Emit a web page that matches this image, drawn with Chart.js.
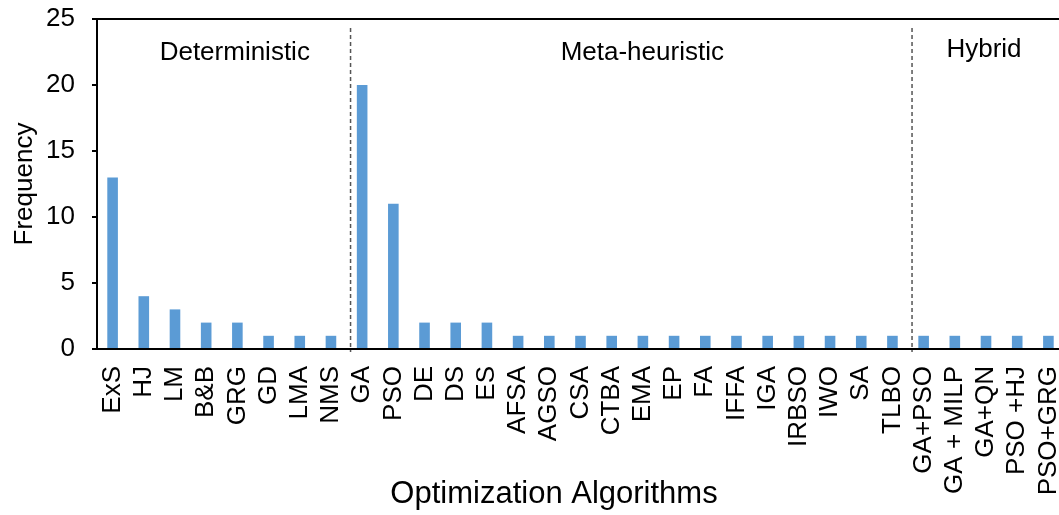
<!DOCTYPE html>
<html>
<head>
<meta charset="utf-8">
<script src="https://cdn.jsdelivr.net/npm/chart.js@4"></script>
<style>
  html, body { margin: 0; padding: 0; background: #fff; overflow: hidden; }
  #wrap { width: 1064px; height: 515px; }
</style>
</head>
<body>
<div id="wrap"><canvas id="myChart" width="1064" height="515"></canvas></div>
<script>
const algorithms = ["ExS", "HJ", "LM", "B&B", "GRG", "GD", "LMA", "NMS",
	"GA", "PSO", "DE", "DS", "ES", "AFSA", "AGSO", "CSA", "CTBA", "EMA", "EP", "FA",
	"IFFA", "IGA", "IRBSO", "IWO", "SA", "TLBO",
	"GA+PSO", "GA + MILP", "GA+QN", "PSO +HJ", "PSO+GRG"];
const frequency = [13, 4, 3, 2, 2, 1, 1, 1,
	20, 11, 2, 2, 2, 1, 1, 1, 1, 1, 1, 1, 1, 1, 1, 1, 1, 1,
	1, 1, 1, 1, 1];
const groupNames = ["Deterministic", "Meta-heuristic", "Hybrid"];
const groupSizes = [8, 18, 5];
const yTicks = [0, 5, 10, 15, 20, 25];

const FONT = "'Liberation Sans', Arial, sans-serif";

// frame top line, group dividers, group names and axis titles
const decorations = {
	id: "decorations",
	afterDraw(chart) {
		const { ctx, chartArea: area, scales: { x } } = chart;
		const step = x.getPixelForValue(1) - x.getPixelForValue(0);
		ctx.save();

		ctx.strokeStyle = "#000";
		ctx.lineWidth = 2;
		ctx.beginPath();
		ctx.moveTo(area.left - 1, area.top);
		ctx.lineTo(area.right, area.top);
		ctx.stroke();

		const edges = [area.left];
		let count = 0;
		groupSizes.forEach((n, i) => {
			count += n;
			if (i < groupSizes.length - 1) {
				edges.push(x.getPixelForValue(count - 1) + step / 2 + 4);
			}
		});
		edges.push(area.right);

		ctx.strokeStyle = "#555";
		ctx.lineWidth = 1.5;
		ctx.setLineDash([4, 3]);
		for (let i = 1; i < edges.length - 1; i++) {
			ctx.beginPath();
			ctx.moveTo(edges[i], area.top + 9);
			ctx.lineTo(edges[i], area.bottom + 3);
			ctx.stroke();
		}
		ctx.setLineDash([]);

		ctx.fillStyle = "#000";
		ctx.font = "26px " + FONT;
		ctx.textAlign = "center";
		ctx.textBaseline = "alphabetic";
		groupNames.forEach((name, i) => {
			const last = i === groupNames.length - 1;
			const mid = (edges[i] + edges[i + 1]) / 2 + (last ? -4 : 11);
			ctx.fillText(name, mid, area.top + (last ? 38 : 41));
		});

		ctx.font = "31px " + FONT;
		ctx.fillText("Optimization Algorithms", 554, 503);

		ctx.font = "26px " + FONT;
		ctx.translate(32, (area.top + area.bottom) / 2);
		ctx.rotate(-Math.PI / 2);
		ctx.fillText("Frequency", 0, 0);
		ctx.restore();
	}
};

new Chart(document.getElementById("myChart"), {
	type: "bar",
	data: {
		labels: algorithms,
		datasets: [{
			data: frequency,
			backgroundColor: "#5B9BD5",
			barPercentage: 0.34,
			categoryPercentage: 1
		}]
	},
	options: {
		responsive: false,
		animation: false,
		layout: { padding: { top: 19, left: 0, right: 0, bottom: 0 } },
		plugins: {
			legend: { display: false },
			tooltip: { enabled: false }
		},
		scales: {
			x: {
				grid: { display: false, drawTicks: false },
				border: { display: true, color: "#000", width: 2 },
				ticks: {
					autoSkip: false,
					minRotation: 90,
					maxRotation: 90,
					padding: 17,
					color: "#000",
					font: { family: FONT, size: 26 }
				},
				afterFit(scale) {
					scale.height = 166;
					scale.paddingLeft = 0;
					scale.paddingRight = 0;
				}
			},
			y: {
				min: 0,
				max: 25,
				afterBuildTicks(scale) {
					scale.ticks = yTicks.map(v => ({ value: v }));
				},
				grid: {
					drawOnChartArea: false,
					drawTicks: true,
					tickLength: 5,
					color: "#000",
					lineWidth: 2
				},
				border: { display: true, color: "#000", width: 2 },
				ticks: {
					padding: 17,
					color: "#000",
					font: { family: FONT, size: 26 }
				},
				afterFit(scale) {
					scale.width = 97;
					scale.paddingTop = 0;
					scale.paddingBottom = 0;
				}
			}
		}
	},
	plugins: [decorations]
});
</script>
</body>
</html>
